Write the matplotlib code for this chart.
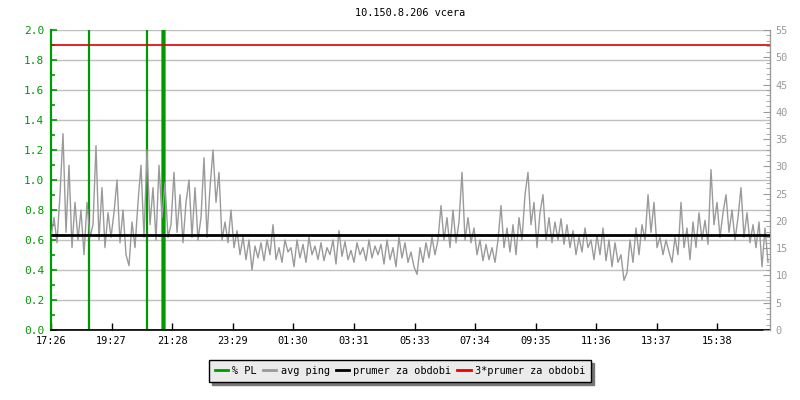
import numpy as np
import matplotlib
matplotlib.use("Agg")
import matplotlib.pyplot as plt
from matplotlib.lines import Line2D
from matplotlib.ticker import MultipleLocator, FormatStrFormatter

title = "10.150.8.206 vcera"

# avg ping [ms], one sample every 6 minutes from 17:26
ping_step_min = 6
avg_ping = [
    17, 20.6, 16, 24.8, 36, 17.9, 30.2, 15.1, 23.4, 16.5,
    22, 13.8, 23.4, 17, 19.3, 33.8, 16.5, 26.1, 15.1, 21.5,
    17, 21.5, 27.5, 16, 22, 13.8, 11.8, 19.8, 15.1, 23.4,
    30.2, 17, 33, 19.3, 26.1, 16.5, 30.2, 20.6, 27, 17,
    19.3, 28.9, 17.9, 24.8, 16, 23.4, 27.5, 17, 26.1, 16.5,
    20.6, 31.6, 17, 26.1, 33, 23.4, 28.9, 16.5, 19.8, 16,
    22, 15.1, 18.2, 13.8, 17, 12.9, 16.5, 11, 15.4, 13.2,
    16, 12.7, 16.5, 13.8, 19.3, 12.9, 15.1, 12.4, 16.5, 14.3,
    15.1, 11.6, 16.5, 13.2, 15.7, 12.4, 17, 13.8, 15.4, 12.9,
    16, 12.7, 15.1, 13.8, 16.5, 12.1, 18.2, 13.5, 16.2, 12.9,
    14.6, 12.4, 16, 13.8, 15.1, 12.7, 16.5, 13.2, 15.4, 13.8,
    15.7, 12.1, 16.5, 12.9, 15.1, 11.6, 17, 13.2, 16, 12.4,
    14.3, 11.6, 10.2, 15.1, 12.4, 16, 13.2, 17, 13.8, 16.5,
    22.8, 16.5, 20.6, 15.1, 22, 16, 19.8, 28.9, 16.5, 20.6,
    16, 18.7, 13.8, 16.5, 12.7, 15.7, 12.9, 15.1, 12.4, 16.5,
    22.8, 15.1, 18.7, 14.3, 19.3, 13.8, 20.6, 16.5, 24.8, 28.9,
    19.3, 23.4, 15.1, 21.5, 24.8, 16.5, 20.6, 16, 19.8, 16.5,
    20.4, 15.7, 19.3, 15.1, 18.2, 13.8, 17, 14.3, 18.7, 15.1,
    16.5, 12.9, 17.3, 13.8, 18.7, 12.7, 16.5, 11.6, 16, 12.4,
    13.8, 9.1, 10.5, 16.5, 12.4, 18.7, 13.8, 19.3, 16.5, 24.8,
    17.9, 23.4, 15.1, 17, 13.8, 16.5, 14.3, 12.4, 17, 13.8,
    23.4, 15.1, 18.7, 12.9, 19.8, 15.1, 21.5, 16.5, 20.1, 15.7,
    29.4, 19.3, 23.4, 17, 21.5, 24.8, 17.9, 22, 16.5, 20.6,
    26.1, 17, 21.5, 16, 19.3, 15.1, 19.8, 11.6, 18.7, 12.4,
]

# packet loss [%] events (minutes from start)
pl_minutes = [0, 75, 76, 77, 191, 192, 193, 222, 223, 224, 226, 227, 228, 1436]
pl_values = [0, 0, 100, 0, 0, 100, 0, 0, 100, 0, 0, 100, 0, 0]

prumer = 17.4  # ms
prumer3 = 3 * prumer

tick_minutes = [0, 121, 242, 363, 484, 605, 727, 848, 969, 1090, 1211, 1332]
tick_labels = ["17:26", "19:27", "21:28", "23:29", "01:30", "03:31",
               "05:33", "07:34", "09:35", "11:36", "13:37", "15:38"]

green = "#009900"
gray = "#9a9a9a"
mono = "DejaVu Sans Mono"
fs = 7.4

fig = plt.figure(figsize=(8, 4), dpi=100)
ax = fig.add_axes([51 / 800, 70 / 400, 719 / 800, 300 / 400])
ax2 = ax.twinx()

t = np.arange(len(avg_ping)) * ping_step_min

ax.yaxis.grid(True, color="#c0c0c0", lw=1)
ax.set_axisbelow(True)
ax.plot(pl_minutes, pl_values, color=green, lw=0.9)
ax.set_xlim(0, 1438)
ax.set_ylim(0, 2.0)
ax.yaxis.set_major_locator(MultipleLocator(0.2))
ax.yaxis.set_minor_locator(MultipleLocator(0.1))
ax.yaxis.set_major_formatter(FormatStrFormatter("%.1f"))
ax.set_xticks(tick_minutes)
ax.set_xticklabels(tick_labels)

ax2.plot(t, avg_ping, color=gray, lw=1)
ax2.axhline(prumer, color="black", lw=2)
ax2.axhline(prumer3, color="#dd0000", lw=1.2)
ax2.set_ylim(0, 55)
ax2.yaxis.set_major_locator(MultipleLocator(5))
ax2.yaxis.set_minor_locator(MultipleLocator(1))

for a in (ax, ax2):
    a.spines["top"].set_visible(False)
ax.spines["left"].set_color(green)
ax.spines["left"].set_linewidth(1.6)
ax.spines["bottom"].set_color("black")
ax.spines["bottom"].set_linewidth(1.2)
ax2.spines["right"].set_color(gray)
ax2.spines["left"].set_visible(False)
ax2.spines["bottom"].set_visible(False)

ax.tick_params(axis="y", which="both", direction="in", colors=green,
               labelsize=fs + 0.6, pad=5)
ax.tick_params(axis="y", which="major", length=4, width=1.2)
ax.tick_params(axis="y", which="minor", length=3, width=1.2)
ax.tick_params(axis="x", direction="in", length=5, width=1, colors="black",
               labelsize=fs, pad=4)
ax2.tick_params(axis="y", which="both", direction="in", colors=gray,
                labelsize=fs, pad=4)
ax2.tick_params(axis="y", which="major", length=5)
ax2.tick_params(axis="y", which="minor", length=3)

for lab in ax.get_xticklabels() + ax.get_yticklabels() + ax2.get_yticklabels():
    lab.set_family(mono)

fig.text(410 / 800, 1 - 13 / 400, title, ha="center", va="center",
         family=mono, fontsize=fs)

handles = [
    Line2D([], [], color=green, lw=2),
    Line2D([], [], color=gray, lw=2),
    Line2D([], [], color="black", lw=2),
    Line2D([], [], color="#ee0000", lw=2),
]
names = ["% PL", "avg ping", "prumer za obdobi", "3*prumer za obdobi"]
leg = fig.legend(handles, names, loc="center", bbox_to_anchor=(400 / 800, 1 - 371 / 400),
                 ncol=4, frameon=True, fancybox=False,
                 shadow={"color": "#777777", "alpha": 1},
                 prop={"family": mono, "size": fs},
                 handlelength=1.3, handletextpad=0.4, columnspacing=0.6,
                 borderpad=0.6, borderaxespad=0)
leg.get_frame().set_facecolor("#ebebeb")
leg.get_frame().set_edgecolor("black")
leg.get_frame().set_linewidth(1)
leg.get_frame().set_alpha(1)

fig.savefig("out.png", dpi=100)
